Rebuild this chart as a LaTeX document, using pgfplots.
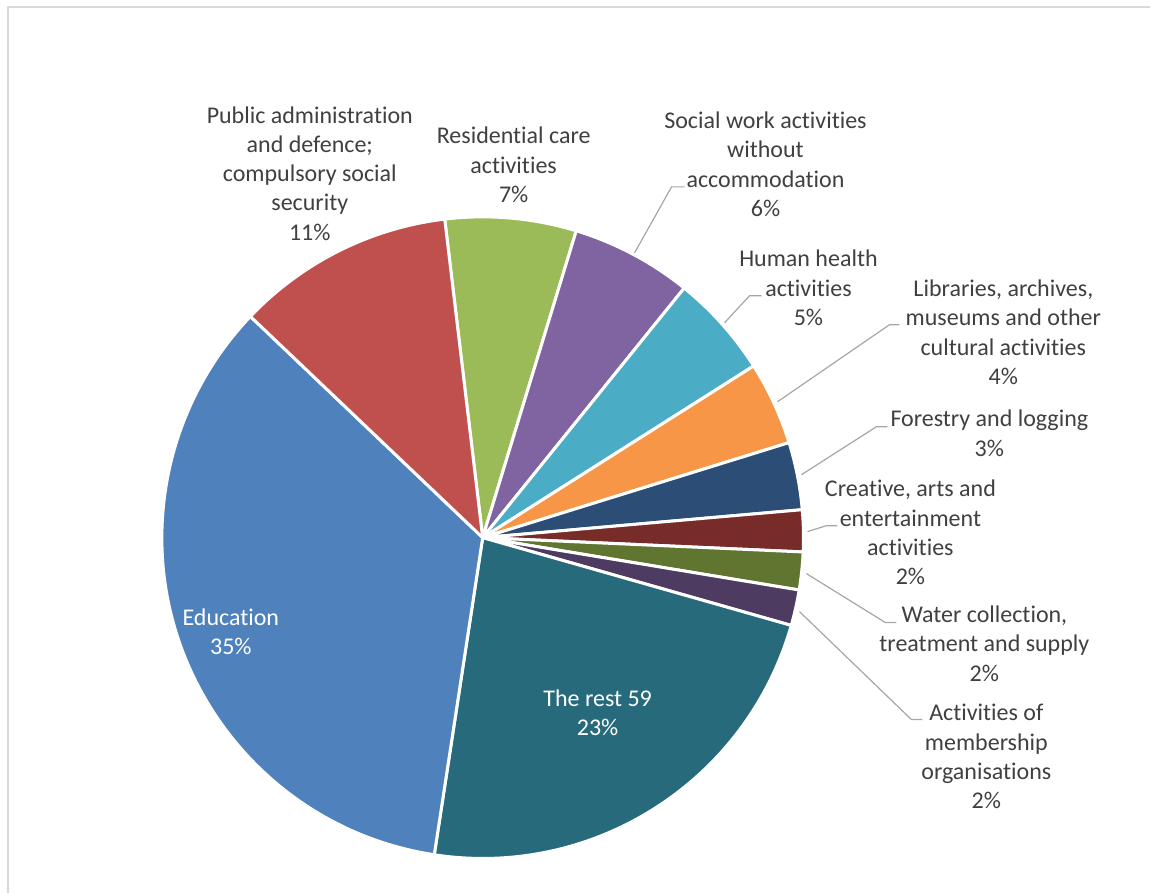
\documentclass[border=0pt]{standalone}
\usepackage{pgfplots}
\usepackage{pgfplotstable}
\pgfplotsset{compat=1.18}
\usepackage{fontspec}
\setmainfont[RawFeature={-liga;-clig;-calt;-dlig}]{Carlito}
\newcommand\ti{t\kern0pt i}
\definecolor{cRes}{HTML}{9BBB59}
\definecolor{cSoc}{HTML}{8064A2}
\definecolor{cHea}{HTML}{4BACC6}
\definecolor{cLib}{HTML}{F79646}
\definecolor{cFor}{HTML}{2C4D75}
\definecolor{cCre}{HTML}{772C2A}
\definecolor{cWat}{HTML}{5F7530}
\definecolor{cMem}{HTML}{4D3B62}
\definecolor{cRest}{HTML}{276A7C}
\definecolor{cEd}{HTML}{4F81BD}
\definecolor{cPub}{HTML}{C0504D}
\definecolor{txt}{HTML}{404040}
\definecolor{lead}{HTML}{A6A6A6}
\definecolor{frame}{HTML}{D9D9D9}

\pgfplotstableread{
name value color
Residential 6.6 cRes
SocialWork 6.1 cSoc
HumanHealth 5.2 cHea
Libraries 4.2 cLib
Forestry 3.4 cFor
Creative 2.1 cCre
Water 1.9 cWat
Membership 1.8 cMem
TheRest 23.0 cRest
Education 34.7 cEd
PublicAdmin 11.0 cPub
}\piedata

\begin{document}
\begin{tikzpicture}
\begin{axis}[
  width=1151pt, height=894pt, scale only axis,
  xmin=0, xmax=1151, ymin=0, ymax=894,
  hide axis, clip=false,
]
\path (axis cs:0,0) rectangle (axis cs:1151,894);
\draw[frame, line width=1.5pt] (axis cs:8,0) -- (axis cs:8,887) -- (axis cs:1151,887);
\gdef\cur{96.8}
\pgfplotsforeachungrouped \i in {0,...,10}{%
  \pgfplotstablegetelem{\i}{value}\of\piedata \let\v\pgfplotsretval
  \pgfplotstablegetelem{\i}{color}\of\piedata \let\c\pgfplotsretval
  \pgfmathsetmacro\nxt{\cur-3.6*\v}%
  \edef\temp{\noexpand\fill[\c, draw=white, line width=3pt, line join=round] (axis cs:483,356) -- ++(\cur:321pt) arc[start angle=\cur, end angle=\nxt, radius=321pt] -- cycle;}%
  \temp
  \global\let\cur\nxt
}
% leader lines
\begin{scope}[lead, line width=1.2pt]
\draw (axis cs:635,641) -- (axis cs:672,707) -- (axis cs:685,707);
\draw (axis cs:725,571) -- (axis cs:750,598) -- (axis cs:762,598);
\draw (axis cs:778,492) -- (axis cs:890,569) -- (axis cs:900,569);
\draw (axis cs:802,419) -- (axis cs:877,467) -- (axis cs:888,467);
\draw (axis cs:808,362) -- (axis cs:827,368) -- (axis cs:838,368);
\draw (axis cs:807,320) -- (axis cs:886,271) -- (axis cs:897,271);
\draw (axis cs:800,282) -- (axis cs:912,174) -- (axis cs:923,174);
\end{scope}
\begin{scope}[every node/.style={align=center, inner sep=0pt, font=\fontsize{24}{29.3}\selectfont}]
\node[txt] at (axis cs:310,720.5) {Public administra\ti on\\and defence;\\compulsory social\\security\\11\%};
\node[txt] at (axis cs:514,729) {Residen\ti al care\\ac\ti vi\ti es\\7\%};
\node[txt] at (axis cs:766,729.5) {Social work ac\ti vi\ti es\\without\\accommoda\ti on\\6\%};
\node[txt] at (axis cs:809,606) {Human health\\ac\ti vi\ti es\\5\%};
\node[txt] at (axis cs:1004,561.5) {Libraries, archives,\\museums and other\\cultural ac\ti vi\ti es\\4\%};
\node[txt] at (axis cs:990,460.5) {Forestry and logging\\3\%};
\node[txt] at (axis cs:911,361) {Crea\ti ve, arts and\\entertainment\\ac\ti vi\ti es\\2\%};
\node[txt] at (axis cs:985,250) {Water collec\ti on,\\treatment and supply\\2\%};
\node[txt] at (axis cs:987,137) {Ac\ti vi\ti es of\\membership\\organisa\ti ons\\2\%};
\node[white] at (axis cs:231,262) {Educa\ti on\\35\%};
\node[white] at (axis cs:598,181) {The rest 59\\23\%};
\end{scope}
\end{axis}
\end{tikzpicture}
\end{document}
